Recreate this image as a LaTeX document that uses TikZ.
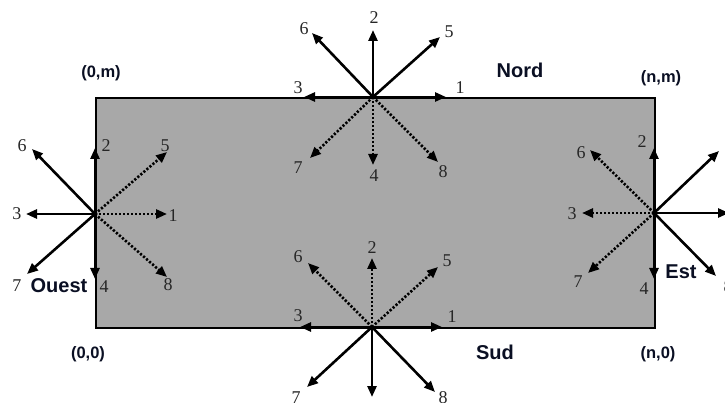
\documentclass[tikz,border=0pt]{standalone}
\usepackage{fontspec}
\setmainfont{Liberation Serif}
\newfontfamily\sansb{Liberation Sans}
\usetikzlibrary{arrows.meta}
\definecolor{boxgray}{RGB}{168,168,168}
\definecolor{labcol}{RGB}{10,15,35}
\begin{document}
\begin{tikzpicture}[x=1pt,y=-1pt,
  solarr/.style={line width=2.6pt, -{Triangle[length=11pt,width=9pt]}},
  dotarr/.style={line width=2.6pt, dash pattern=on 2.2pt off 1.8pt, -{Triangle[length=11pt,width=9pt]}},
  num/.style={font=\fontsize{18}{18}\selectfont, inner sep=0pt, text=black!85},
  dirlab/.style={font=\sansb\bfseries\fontsize{20}{20}\selectfont, inner sep=0pt, text=labcol},
  cornlab/.style={font=\sansb\bfseries\fontsize{16.5}{16.5}\selectfont, inner sep=0pt, text=labcol}]
\useasboundingbox (0,0) rectangle (725,403);
\fill[white] (0,0) rectangle (725,403);
\node[draw=black, line width=2pt, fill=boxgray, minimum width=559pt, minimum height=230pt, anchor=north west, inner sep=0pt] (box) at (95,97) {};
% centres
\coordinate (N) at (373,97);
\coordinate (W) at (95,214);
\coordinate (E) at (654,213);
\coordinate (S) at (372,327);
% North tips
\coordinate (N1) at (446,97);
\coordinate (N2) at (373,30);
\coordinate (N3) at (304,97);
\coordinate (N4) at (373,165);
\coordinate (N5) at (440,37);
\coordinate (N6) at (312,33);
\coordinate (N7) at (310,158);
\coordinate (N8) at (438,162);
% West tips
\coordinate (W1) at (167,214);
\coordinate (W2) at (95,148);
\coordinate (W3) at (26,214);
\coordinate (W4) at (95,279);
\coordinate (W5) at (167,152);
\coordinate (W6) at (32,149);
\coordinate (W7) at (27,274);
\coordinate (W8) at (167,277);
% East tips
\coordinate (E1) at (729,213);
\coordinate (E2) at (654,148);
\coordinate (E3) at (582,213);
\coordinate (E4) at (654,279);
\coordinate (E5) at (719,151);
\coordinate (E6) at (590,150);
\coordinate (E7) at (588,273);
\coordinate (E8) at (716,276);
% South tips
\coordinate (S1) at (442,327);
\coordinate (S2) at (372,258);
\coordinate (S3) at (300,327);
\coordinate (S4) at (372,397);
\coordinate (S5) at (438,267);
\coordinate (S6) at (308,263);
\coordinate (S7) at (307,387);
\coordinate (S8) at (435,392);
% North arrows
\draw[solarr] (N) -- (N1);
\draw[solarr] (N) -- (N2);
\draw[solarr] (N) -- (N3);
\draw[solarr] (N) -- (N5);
\draw[solarr] (N) -- (N6);
\draw[dotarr] (N) -- (N4);
\draw[dotarr] (N) -- (N7);
\draw[dotarr] (N) -- (N8);
% West arrows
\draw[solarr] (W) -- (W2);
\draw[solarr] (W) -- (W3);
\draw[solarr] (W) -- (W4);
\draw[solarr] (W) -- (W6);
\draw[solarr] (W) -- (W7);
\draw[dotarr] (W) -- (W1);
\draw[dotarr] (W) -- (W5);
\draw[dotarr] (W) -- (W8);
% East arrows
\draw[solarr] (E) -- (E1);
\draw[solarr] (E) -- (E2);
\draw[solarr] (E) -- (E4);
\draw[solarr] (E) -- (E5);
\draw[solarr] (E) -- (E8);
\draw[dotarr] (E) -- (E3);
\draw[dotarr] (E) -- (E6);
\draw[dotarr] (E) -- (E7);
% South arrows
\draw[solarr] (S) -- (S1);
\draw[solarr] (S) -- (S3);
\draw[solarr] (S) -- (S4);
\draw[solarr] (S) -- (S7);
\draw[solarr] (S) -- (S8);
\draw[dotarr] (S) -- (S2);
\draw[dotarr] (S) -- (S5);
\draw[dotarr] (S) -- (S6);
% North labels
\node[num] (nl1) at (460,88) {1};
\node[num] (nl2) at (374,18) {2};
\node[num] (nl3) at (298,88) {3};
\node[num] (nl4) at (374,176) {4};
\node[num] (nl5) at (449,32) {5};
\node[num] (nl6) at (304,29) {6};
\node[num] (nl7) at (298,168) {7};
\node[num] (nl8) at (443,172) {8};
% West labels
\node[num] (wl1) at (173,216) {1};
\node[num] (wl2) at (106,146) {2};
\node[num] (wl3) at (17,214) {3};
\node[num] (wl4) at (104,287) {4};
\node[num] (wl5) at (165,146) {5};
\node[num] (wl6) at (22,146) {6};
\node[num] (wl7) at (17,286) {7};
\node[num] (wl8) at (168,285) {8};
% East labels
\node[num] (el2) at (642,142) {2};
\node[num] (el3) at (572,214) {3};
\node[num] (el4) at (644,289) {4};
\node[num] (el5) at (729,141) {5};
\node[num] (el6) at (581,153) {6};
\node[num] (el7) at (578,282) {7};
\node[num] (el8) at (728,287) {8};
% South labels
\node[num] (sl1) at (452,317) {1};
\node[num] (sl2) at (372,248) {2};
\node[num] (sl3) at (298,316) {3};
\node[num] (sl5) at (447,261) {5};
\node[num] (sl6) at (298,257) {6};
\node[num] (sl7) at (296,398) {7};
\node[num] (sl8) at (443,398) {8};
% direction labels
\node[dirlab] (nord) at (520,70) {Nord};
\node[dirlab] (sud) at (495,352) {Sud};
\node[dirlab] (est) at (681,272) {Est};
\node[dirlab] (ouest) at (59,286) {Ouest};
% corner labels
\node[cornlab] (c0m) at (101,73) {(0,m)};
\node[cornlab] (cnm) at (661,78) {(n,m)};
\node[cornlab] (c00) at (88,354) {(0,0)};
\node[cornlab] (cn0) at (658,354) {(n,0)};
\end{tikzpicture}
\end{document}
